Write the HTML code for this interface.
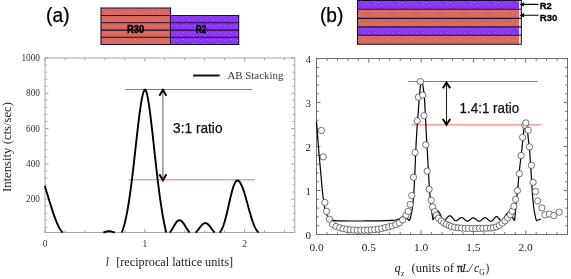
<!DOCTYPE html>
<html><head><meta charset="utf-8"><style>
html,body{margin:0;padding:0;background:#fff;width:571px;height:279px;overflow:hidden}
svg{display:block;will-change:transform}
</style></head><body>
<svg width="571" height="279" viewBox="0 0 571 279">
<rect width="571" height="279" fill="#fff"/>
<defs><pattern id="dots" x="0" y="0" width="12" height="7" patternUnits="userSpaceOnUse"><rect x="1" y="1" width="1" height="1" fill="#fff" opacity="0.35"/><rect x="6" y="2" width="1" height="1" fill="#fff" opacity="0.3"/><rect x="3" y="4" width="1" height="1" fill="#fff" opacity="0.3"/><rect x="9" y="5" width="1" height="1" fill="#fff" opacity="0.35"/></pattern></defs>
<text x="46.00" y="22.40" font-family="Liberation Sans, sans-serif" font-size="19.6" fill="#000" textLength="23.60" lengthAdjust="spacingAndGlyphs" stroke="#000" stroke-width="0.25">(a)</text>
<rect x="101" y="8" width="69.5" height="36.5" fill="#d86a5e"/>
<rect x="170.5" y="15.5" width="68.2" height="29" fill="#8a36f3"/>
<rect x="101" y="8" width="69.5" height="36.5" fill="url(#dots)" opacity="0.4"/>
<rect x="170.5" y="15.5" width="68.2" height="29" fill="url(#dots)"/>
<path d="M101,8H170.5 M101,15.5H238.7 M101,22.7H238.7 M101,30.1H238.7 M101,37.3H238.7 M101,44.5H238.7" stroke="#1a0c36" stroke-width="1.1" fill="none"/>
<path d="M101,7.5V45 M170.5,7.5V45 M238.7,15V45" stroke="#1a0c36" stroke-width="1.1" fill="none"/>
<text x="127.10" y="32.90" font-family="Liberation Sans, sans-serif" font-size="10.0" fill="#000" font-weight="bold" textLength="17.20" lengthAdjust="spacingAndGlyphs" stroke="#000" stroke-width="0.4">R30</text>
<text x="195.70" y="32.90" font-family="Liberation Sans, sans-serif" font-size="10.0" fill="#000" font-weight="bold" textLength="10.60" lengthAdjust="spacingAndGlyphs" stroke="#000" stroke-width="0.4">R2</text>
<text x="320.00" y="22.40" font-family="Liberation Sans, sans-serif" font-size="19.6" fill="#000" textLength="23.40" lengthAdjust="spacingAndGlyphs" stroke="#000" stroke-width="0.25">(b)</text>
<rect x="357.5" y="0.50" width="161.6" height="8.80" fill="#8a36f3"/>
<rect x="357.5" y="9.30" width="161.6" height="9.10" fill="#d86a5e"/>
<rect x="357.5" y="18.40" width="161.6" height="8.50" fill="#d86a5e"/>
<rect x="357.5" y="26.90" width="161.6" height="8.40" fill="#8a36f3"/>
<rect x="357.5" y="35.30" width="161.6" height="9.00" fill="#d86a5e"/>
<rect x="357.5" y="0.50" width="161.6" height="8.80" fill="url(#dots)" opacity="1"/>
<rect x="357.5" y="9.30" width="161.6" height="9.10" fill="url(#dots)" opacity="0.4"/>
<rect x="357.5" y="18.40" width="161.6" height="8.50" fill="url(#dots)" opacity="0.4"/>
<rect x="357.5" y="26.90" width="161.6" height="8.40" fill="url(#dots)" opacity="1"/>
<rect x="357.5" y="35.30" width="161.6" height="9.00" fill="url(#dots)" opacity="0.4"/>
<path d="M357.5,0.5H521.3 M357.5,9.3H521.3 M357.5,18.4H521.3 M357.5,26.9H521.3 M357.5,35.3H521.3 M357.5,44.3H521.3" stroke="#1a0c36" stroke-width="1.1" fill="none"/>
<path d="M357.5,0V44.8 M521.3,0V44.8" stroke="#1a0c36" stroke-width="1.1" fill="none"/>
<path d="M523,4.4H538.5 M523,15.3H538.5" stroke="#000" stroke-width="1.1"/>
<path d="M519.5,4.4L524,2.2L524,6.6Z M519.5,15.3L524,13.1L524,17.5Z" fill="#000"/>
<text x="539.80" y="9.30" font-family="Liberation Sans, sans-serif" font-size="9.8" fill="#000" font-weight="bold" textLength="12.00" lengthAdjust="spacingAndGlyphs" stroke="#000" stroke-width="0.3">R2</text>
<text x="539.80" y="20.90" font-family="Liberation Sans, sans-serif" font-size="9.8" fill="#000" font-weight="bold" textLength="17.60" lengthAdjust="spacingAndGlyphs" stroke="#000" stroke-width="0.3">R30</text>
<rect x="45.00" y="58.00" width="249.80" height="174.50" fill="none" stroke="#a3a3a3" stroke-width="1"/>
<path d="M45.00,232.50v-3.50 M45.00,58.00v3.50 M64.96,232.50v-2.20 M64.96,58.00v2.20 M84.92,232.50v-2.20 M84.92,58.00v2.20 M104.88,232.50v-2.20 M104.88,58.00v2.20 M124.84,232.50v-2.20 M124.84,58.00v2.20 M144.80,232.50v-3.50 M144.80,58.00v3.50 M164.76,232.50v-2.20 M164.76,58.00v2.20 M184.72,232.50v-2.20 M184.72,58.00v2.20 M204.68,232.50v-2.20 M204.68,58.00v2.20 M224.64,232.50v-2.20 M224.64,58.00v2.20 M244.60,232.50v-3.50 M244.60,58.00v3.50 M264.56,232.50v-2.20 M264.56,58.00v2.20 M284.52,232.50v-2.20 M284.52,58.00v2.20 M45.00,227.34h2.20 M294.80,227.34h-2.20 M45.00,220.29h2.20 M294.80,220.29h-2.20 M45.00,213.23h2.20 M294.80,213.23h-2.20 M45.00,206.18h2.20 M294.80,206.18h-2.20 M45.00,199.12h3.50 M294.80,199.12h-3.50 M45.00,192.06h2.20 M294.80,192.06h-2.20 M45.00,185.01h2.20 M294.80,185.01h-2.20 M45.00,177.95h2.20 M294.80,177.95h-2.20 M45.00,170.90h2.20 M294.80,170.90h-2.20 M45.00,163.84h3.50 M294.80,163.84h-3.50 M45.00,156.78h2.20 M294.80,156.78h-2.20 M45.00,149.73h2.20 M294.80,149.73h-2.20 M45.00,142.67h2.20 M294.80,142.67h-2.20 M45.00,135.62h2.20 M294.80,135.62h-2.20 M45.00,128.56h3.50 M294.80,128.56h-3.50 M45.00,121.50h2.20 M294.80,121.50h-2.20 M45.00,114.45h2.20 M294.80,114.45h-2.20 M45.00,107.39h2.20 M294.80,107.39h-2.20 M45.00,100.34h2.20 M294.80,100.34h-2.20 M45.00,93.28h3.50 M294.80,93.28h-3.50 M45.00,86.22h2.20 M294.80,86.22h-2.20 M45.00,79.17h2.20 M294.80,79.17h-2.20 M45.00,72.11h2.20 M294.80,72.11h-2.20 M45.00,65.06h2.20 M294.80,65.06h-2.20 M45.00,58.00h3.50 M294.80,58.00h-3.50" stroke="#a3a3a3" stroke-width="1" fill="none"/>
<text x="40.00" y="202.32" font-family="Liberation Serif, serif" font-size="9.3" fill="#333" text-anchor="end">200</text>
<text x="40.00" y="167.04" font-family="Liberation Serif, serif" font-size="9.3" fill="#333" text-anchor="end">400</text>
<text x="40.00" y="131.76" font-family="Liberation Serif, serif" font-size="9.3" fill="#333" text-anchor="end">600</text>
<text x="40.00" y="96.48" font-family="Liberation Serif, serif" font-size="9.3" fill="#333" text-anchor="end">800</text>
<text x="40.00" y="61.20" font-family="Liberation Serif, serif" font-size="9.3" fill="#333" text-anchor="end">1000</text>
<text x="45.00" y="246.60" font-family="Liberation Serif, serif" font-size="9.5" fill="#333" text-anchor="middle">0</text>
<text x="144.80" y="246.60" font-family="Liberation Serif, serif" font-size="9.5" fill="#333" text-anchor="middle">1</text>
<text x="244.60" y="246.60" font-family="Liberation Serif, serif" font-size="9.5" fill="#333" text-anchor="middle">2</text>
<text x="105.80" y="266.40" font-family="Liberation Serif, serif" font-size="11.5" fill="#222" font-style="italic">l</text>
<text x="116.20" y="266.40" font-family="Liberation Serif, serif" font-size="11.5" fill="#222" textLength="116.80" lengthAdjust="spacingAndGlyphs">[reciprocal lattice units]</text>
<text transform="translate(11.4,192) rotate(-90)" font-family="Liberation Serif, serif" font-size="11.5" fill="#222" textLength="90" lengthAdjust="spacingAndGlyphs">Intensity (cts/sec)</text>
<path d="M193.1,75.5H219.7" stroke="#111" stroke-width="2"/>
<text x="227.40" y="79.20" font-family="Liberation Serif, serif" font-size="11" fill="#333" textLength="56.00" lengthAdjust="spacingAndGlyphs">AB Stacking</text>
<path d="M125.3,89.5H251.9" stroke="#f64c38" stroke-width="1.1"/>
<path d="M128.6,179.8H254.7" stroke="#fa6a56" stroke-width="1.0"/>
<path d="M44.80,186.00 C45.42,188.00 47.28,194.07 48.50,198.00 C49.72,201.93 50.92,206.00 52.10,209.60 C53.28,213.20 54.43,216.60 55.60,219.60 C56.77,222.60 58.20,225.77 59.10,227.60 C60.00,229.43 60.38,229.78 61.00,230.60 C61.62,231.42 62.50,232.18 62.80,232.50" stroke="#000" stroke-width="1.9" fill="none" stroke-linejoin="round"/>
<path d="M103.40,232.50 L104.16,232.28 L104.92,232.04 L105.68,231.80 L106.44,231.58 L107.20,231.40 L107.96,231.27 L108.72,231.20 L109.48,231.21 L110.24,231.29 L111.00,231.42 L111.76,231.61 L112.52,231.83 L113.28,232.06 L114.04,232.29 L114.80,232.50" stroke="#000" stroke-width="1.9" fill="none" stroke-linejoin="round"/>
<path d="M121.80,232.50 L122.17,231.53 L122.55,230.51 L122.92,229.41 L123.30,228.26 L123.67,227.03 L124.04,225.73 L124.42,224.36 L124.79,222.92 L125.17,221.40 L125.54,219.80 L125.91,218.11 L126.29,216.35 L126.66,214.50 L127.04,212.57 L127.41,210.55 L127.78,208.45 L128.16,206.26 L128.53,203.99 L128.91,201.63 L129.28,199.18 L129.65,196.65 L130.03,194.04 L130.40,191.35 L130.77,188.58 L131.15,185.73 L131.52,182.81 L131.90,179.83 L132.27,176.77 L132.64,173.66 L133.02,170.49 L133.39,167.27 L133.77,164.01 L134.14,160.71 L134.51,157.38 L134.89,154.03 L135.26,150.66 L135.64,147.28 L136.01,143.90 L136.38,140.54 L136.76,137.19 L137.13,133.88 L137.51,130.60 L137.88,127.37 L138.25,124.20 L138.63,121.10 L139.00,118.09 L139.38,115.16 L139.75,112.34 L140.12,109.63 L140.50,107.05 L140.87,104.60 L141.25,102.30 L141.62,100.15 L141.99,98.17 L142.37,96.37 L142.74,94.76 L143.12,93.34 L143.49,92.13 L143.86,91.14 L144.24,90.38 L144.61,89.87 L144.98,89.62 L145.36,89.74 L145.73,90.26 L146.11,91.10 L146.48,92.21 L146.85,93.56 L147.23,95.14 L147.60,96.94 L147.98,98.92 L148.35,101.09 L148.72,103.42 L149.10,105.90 L149.47,108.52 L149.85,111.27 L150.22,114.14 L150.59,117.10 L150.97,120.16 L151.34,123.30 L151.72,126.51 L152.09,129.77 L152.46,133.09 L152.84,136.45 L153.21,139.83 L153.59,143.23 L153.96,146.65 L154.33,150.07 L154.71,153.49 L155.08,156.89 L155.46,160.28 L155.83,163.64 L156.20,166.96 L156.58,170.25 L156.95,173.50 L157.33,176.70 L157.70,179.84 L158.07,182.93 L158.45,185.96 L158.82,188.92 L159.19,191.82 L159.57,194.65 L159.94,197.40 L160.32,200.08 L160.69,202.69 L161.06,205.22 L161.44,207.67 L161.81,210.05 L162.19,212.34 L162.56,214.56 L162.93,216.69 L163.31,218.75 L163.68,220.73 L164.06,222.64 L164.43,224.46 L164.80,226.22 L165.18,227.90 L165.55,229.50 L165.93,231.04 L166.30,232.50" stroke="#000" stroke-width="1.9" fill="none" stroke-linejoin="round"/>
<path d="M169.80,232.50 L170.48,231.70 L171.17,230.75 L171.85,229.69 L172.53,228.53 L173.21,227.33 L173.90,226.12 L174.58,224.93 L175.26,223.81 L175.94,222.80 L176.63,221.91 L177.31,221.19 L177.99,220.66 L178.68,220.32 L179.36,220.20 L180.04,220.28 L180.72,220.56 L181.41,221.01 L182.09,221.64 L182.77,222.42 L183.46,223.32 L184.14,224.33 L184.82,225.42 L185.50,226.54 L186.19,227.69 L186.87,228.81 L187.55,229.88 L188.23,230.87 L188.92,231.75 L189.60,232.50" stroke="#000" stroke-width="1.9" fill="none" stroke-linejoin="round"/>
<path d="M195.60,232.50 L196.26,231.92 L196.92,231.24 L197.59,230.48 L198.25,229.65 L198.91,228.78 L199.57,227.90 L200.23,227.03 L200.90,226.20 L201.56,225.42 L202.22,224.73 L202.88,224.15 L203.54,223.68 L204.21,223.34 L204.87,223.15 L205.53,223.10 L206.19,223.22 L206.86,223.49 L207.52,223.91 L208.18,224.47 L208.84,225.15 L209.50,225.93 L210.17,226.78 L210.83,227.68 L211.49,228.59 L212.15,229.50 L212.81,230.37 L213.48,231.18 L214.14,231.90 L214.80,232.50" stroke="#000" stroke-width="1.9" fill="none" stroke-linejoin="round"/>
<path d="M219.70,232.50 L220.36,231.76 L221.02,230.81 L221.68,229.63 L222.34,228.23 L223.00,226.60 L223.66,224.75 L224.32,222.68 L224.97,220.43 L225.63,217.99 L226.29,215.40 L226.95,212.69 L227.61,209.88 L228.27,207.00 L228.93,204.10 L229.59,201.22 L230.25,198.38 L230.91,195.63 L231.57,193.01 L232.23,190.55 L232.89,188.30 L233.55,186.28 L234.21,184.53 L234.86,183.07 L235.52,181.92 L236.18,181.10 L236.84,180.63 L237.50,180.50 L238.16,180.66 L238.82,181.07 L239.48,181.72 L240.14,182.59 L240.80,183.70 L241.46,185.01 L242.12,186.52 L242.78,188.22 L243.44,190.08 L244.09,192.08 L244.75,194.21 L245.41,196.45 L246.07,198.76 L246.73,201.13 L247.39,203.54 L248.05,205.96 L248.71,208.38 L249.37,210.76 L250.03,213.09 L250.69,215.35 L251.35,217.52 L252.01,219.59 L252.67,221.55 L253.33,223.37 L253.98,225.05 L254.64,226.58 L255.30,227.96 L255.96,229.18 L256.62,230.25 L257.28,231.15 L257.94,231.90 L258.60,232.50" stroke="#000" stroke-width="1.9" fill="none" stroke-linejoin="round"/>
<path d="M162.90,90.70V179.40" stroke="#6a6a6a" stroke-width="1.10" fill="none"/><path d="M159.40,95.80L162.90,89.80L166.40,95.80 M159.40,174.30L162.90,180.30L166.40,174.30" stroke="#000" stroke-width="1.90" fill="none" stroke-linejoin="miter" stroke-linecap="butt"/>
<text x="173.10" y="132.80" font-family="Liberation Sans, sans-serif" font-size="13.8" fill="#111" textLength="49.40" lengthAdjust="spacingAndGlyphs" stroke="#111" stroke-width="0.25">3:1 ratio</text>
<rect x="316.50" y="58.50" width="251.00" height="176.00" fill="none" stroke="#6e6e6e" stroke-width="1"/>
<path d="M316.50,234.50v-4.00 M316.50,58.50v4.00 M326.96,234.50v-2.30 M326.96,58.50v2.30 M337.42,234.50v-2.30 M337.42,58.50v2.30 M347.88,234.50v-2.30 M347.88,58.50v2.30 M358.34,234.50v-2.30 M358.34,58.50v2.30 M368.80,234.50v-4.00 M368.80,58.50v4.00 M379.26,234.50v-2.30 M379.26,58.50v2.30 M389.72,234.50v-2.30 M389.72,58.50v2.30 M400.18,234.50v-2.30 M400.18,58.50v2.30 M410.64,234.50v-2.30 M410.64,58.50v2.30 M421.10,234.50v-4.00 M421.10,58.50v4.00 M431.56,234.50v-2.30 M431.56,58.50v2.30 M442.02,234.50v-2.30 M442.02,58.50v2.30 M452.48,234.50v-2.30 M452.48,58.50v2.30 M462.94,234.50v-2.30 M462.94,58.50v2.30 M473.40,234.50v-4.00 M473.40,58.50v4.00 M483.86,234.50v-2.30 M483.86,58.50v2.30 M494.32,234.50v-2.30 M494.32,58.50v2.30 M504.78,234.50v-2.30 M504.78,58.50v2.30 M515.24,234.50v-2.30 M515.24,58.50v2.30 M525.70,234.50v-4.00 M525.70,58.50v4.00 M536.16,234.50v-2.30 M536.16,58.50v2.30 M546.62,234.50v-2.30 M546.62,58.50v2.30 M557.08,234.50v-2.30 M557.08,58.50v2.30 M567.54,234.50v-2.30 M567.54,58.50v2.30 M316.50,234.50h4.00 M567.50,234.50h-4.00 M316.50,225.71h2.30 M567.50,225.71h-2.30 M316.50,216.91h2.30 M567.50,216.91h-2.30 M316.50,208.12h2.30 M567.50,208.12h-2.30 M316.50,199.32h2.30 M567.50,199.32h-2.30 M316.50,190.53h4.00 M567.50,190.53h-4.00 M316.50,181.74h2.30 M567.50,181.74h-2.30 M316.50,172.94h2.30 M567.50,172.94h-2.30 M316.50,164.15h2.30 M567.50,164.15h-2.30 M316.50,155.35h2.30 M567.50,155.35h-2.30 M316.50,146.56h4.00 M567.50,146.56h-4.00 M316.50,137.77h2.30 M567.50,137.77h-2.30 M316.50,128.97h2.30 M567.50,128.97h-2.30 M316.50,120.18h2.30 M567.50,120.18h-2.30 M316.50,111.38h2.30 M567.50,111.38h-2.30 M316.50,102.59h4.00 M567.50,102.59h-4.00 M316.50,93.80h2.30 M567.50,93.80h-2.30 M316.50,85.00h2.30 M567.50,85.00h-2.30 M316.50,76.21h2.30 M567.50,76.21h-2.30 M316.50,67.41h2.30 M567.50,67.41h-2.30 M316.50,58.62h4.00 M567.50,58.62h-4.00" stroke="#6e6e6e" stroke-width="1" fill="none"/>
<text x="310.90" y="238.70" font-family="Liberation Serif, serif" font-size="11" fill="#2a2a2a" text-anchor="end">0</text>
<text x="310.90" y="194.73" font-family="Liberation Serif, serif" font-size="11" fill="#2a2a2a" text-anchor="end">1</text>
<text x="310.90" y="150.76" font-family="Liberation Serif, serif" font-size="11" fill="#2a2a2a" text-anchor="end">2</text>
<text x="310.90" y="106.79" font-family="Liberation Serif, serif" font-size="11" fill="#2a2a2a" text-anchor="end">3</text>
<text x="310.90" y="62.82" font-family="Liberation Serif, serif" font-size="11" fill="#2a2a2a" text-anchor="end">4</text>
<text x="316.50" y="250.60" font-family="Liberation Serif, serif" font-size="11.4" fill="#222" text-anchor="middle">0.0</text>
<text x="368.80" y="250.60" font-family="Liberation Serif, serif" font-size="11.4" fill="#222" text-anchor="middle">0.5</text>
<text x="421.10" y="250.60" font-family="Liberation Serif, serif" font-size="11.4" fill="#222" text-anchor="middle">1.0</text>
<text x="473.40" y="250.60" font-family="Liberation Serif, serif" font-size="11.4" fill="#222" text-anchor="middle">1.5</text>
<text x="525.70" y="250.60" font-family="Liberation Serif, serif" font-size="11.4" fill="#222" text-anchor="middle">2.0</text>
<text x="394.60" y="271.60" font-family="Liberation Serif, serif" font-size="12.2" fill="#222" font-style="italic">q</text>
<text x="401.00" y="275.60" font-family="Liberation Serif, serif" font-size="7.6" fill="#222">z</text>
<text x="411.50" y="271.60" font-family="Liberation Serif, serif" font-size="11.5" fill="#222" textLength="42.50" lengthAdjust="spacingAndGlyphs">(units of</text>
<text x="457.00" y="271.60" font-family="Liberation Serif, serif" font-size="11.8" fill="#222" stroke="#222" stroke-width="0.3">π</text>
<text x="462.00" y="271.60" font-family="Liberation Serif, serif" font-size="12" fill="#222" font-style="italic">L</text>
<text x="468.80" y="271.90" font-family="Liberation Serif, serif" font-size="12.5" fill="#222" font-style="italic">/</text>
<text x="474.00" y="271.60" font-family="Liberation Serif, serif" font-size="11.8" fill="#222" font-style="italic">c</text>
<text x="479.30" y="275.00" font-family="Liberation Serif, serif" font-size="7.5" fill="#222">G</text>
<text x="485.60" y="271.60" font-family="Liberation Serif, serif" font-size="11.5" fill="#222">)</text>
<path d="M407.9,81.5H537.6" stroke="#f64c38" stroke-width="1.1"/>
<path d="M411.5,124.9H540.9" stroke="#fa6a56" stroke-width="1.0"/>
<path d="M316.50,121.50 C316.87,126.25 318.03,141.92 318.70,150.00 C319.37,158.08 319.90,163.33 320.50,170.00 C321.10,176.67 321.73,184.50 322.30,190.00 C322.87,195.50 323.42,199.67 323.90,203.00 C324.38,206.33 324.72,208.00 325.20,210.00 C325.68,212.00 326.25,213.70 326.80,215.00 C327.35,216.30 327.90,217.07 328.50,217.80 C329.10,218.53 329.37,218.93 330.40,219.40 C331.43,219.87 333.10,220.35 334.70,220.60 C336.30,220.85 335.78,220.83 340.00,220.90 C344.22,220.97 353.33,221.02 360.00,221.00 C366.67,220.98 374.67,220.90 380.00,220.80 C385.33,220.70 389.33,220.53 392.00,220.40 C394.67,220.27 394.67,220.30 396.00,220.00 C397.33,219.70 398.75,219.17 400.00,218.60 C401.25,218.03 402.53,216.83 403.50,216.60 C404.47,216.37 405.08,216.77 405.80,217.20 C406.52,217.63 407.18,218.63 407.80,219.20 C408.42,219.77 409.22,220.37 409.50,220.60" stroke="#000" stroke-width="1.2" fill="none" stroke-linejoin="round"/>
<path d="M409.50,220.60 C409.85,219.33 410.97,216.43 411.60,213.00 C412.23,209.57 412.90,203.83 413.30,200.00 C413.70,196.17 413.72,195.00 414.00,190.00 C414.28,185.00 414.70,176.67 415.00,170.00 C415.30,163.33 415.48,156.67 415.80,150.00 C416.12,143.33 416.47,136.67 416.90,130.00 C417.33,123.33 417.97,115.83 418.40,110.00 C418.83,104.17 419.18,98.83 419.50,95.00 C419.82,91.17 420.05,89.08 420.30,87.00 C420.55,84.92 420.77,83.47 421.00,82.50 C421.23,81.53 421.47,81.20 421.70,81.20 C421.93,81.20 422.17,81.53 422.40,82.50 C422.63,83.47 422.80,84.92 423.10,87.00 C423.40,89.08 423.87,91.17 424.20,95.00 C424.53,98.83 424.78,104.17 425.10,110.00 C425.42,115.83 425.75,123.33 426.10,130.00 C426.45,136.67 426.82,143.33 427.20,150.00 C427.58,156.67 428.02,163.33 428.40,170.00 C428.78,176.67 429.08,184.17 429.50,190.00 C429.92,195.83 430.45,200.83 430.90,205.00 C431.35,209.17 431.82,212.47 432.20,215.00 C432.58,217.53 433.03,219.33 433.20,220.20" stroke="#000" stroke-width="1.2" fill="none" stroke-linejoin="round"/>
<path d="M432.90,220.00 C433.30,219.08 434.45,216.02 435.30,214.50 C436.15,212.98 437.17,210.90 438.00,210.90 C438.83,210.90 439.60,213.15 440.30,214.50 C441.00,215.85 441.65,217.92 442.20,219.00 C442.75,220.08 443.37,220.67 443.60,221.00" stroke="#000" stroke-width="1.2" fill="none" stroke-linejoin="round"/>
<path d="M443.60,220.80 C443.69,220.79 443.95,220.77 444.12,220.71 C444.30,220.66 444.48,220.57 444.65,220.47 C444.83,220.36 445.00,220.22 445.18,220.07 C445.35,219.92 445.52,219.74 445.70,219.55 C445.88,219.36 446.05,219.16 446.23,218.95 C446.40,218.74 446.57,218.52 446.75,218.30 C446.93,218.08 447.10,217.86 447.27,217.65 C447.45,217.44 447.62,217.24 447.80,217.05 C447.98,216.86 448.15,216.68 448.32,216.53 C448.50,216.38 448.67,216.24 448.85,216.13 C449.02,216.03 449.20,215.94 449.38,215.89 C449.55,215.83 449.73,215.80 449.90,215.80 C450.07,215.80 450.23,215.83 450.39,215.88 C450.56,215.94 450.72,216.02 450.88,216.13 C451.05,216.23 451.21,216.37 451.38,216.52 C451.54,216.67 451.70,216.84 451.87,217.03 C452.03,217.21 452.19,217.41 452.36,217.62 C452.52,217.82 452.69,218.04 452.85,218.25 C453.01,218.46 453.18,218.68 453.34,218.88 C453.51,219.09 453.67,219.29 453.83,219.47 C454.00,219.66 454.16,219.83 454.32,219.98 C454.49,220.13 454.65,220.27 454.82,220.37 C454.98,220.48 455.14,220.56 455.31,220.62 C455.47,220.67 455.64,220.70 455.80,220.70 C455.96,220.70 456.12,220.68 456.28,220.65 C456.44,220.61 456.61,220.55 456.77,220.49 C456.93,220.42 457.09,220.33 457.25,220.23 C457.41,220.13 457.57,220.02 457.73,219.90 C457.89,219.78 458.06,219.65 458.22,219.51 C458.38,219.38 458.54,219.24 458.70,219.10 C458.86,218.96 459.02,218.82 459.18,218.69 C459.34,218.55 459.51,218.42 459.67,218.30 C459.83,218.18 459.99,218.07 460.15,217.97 C460.31,217.87 460.47,217.78 460.63,217.71 C460.79,217.65 460.96,217.59 461.12,217.55 C461.28,217.52 461.44,217.50 461.60,217.50 C461.76,217.50 461.92,217.52 462.08,217.56 C462.24,217.60 462.41,217.66 462.57,217.74 C462.73,217.82 462.89,217.92 463.05,218.03 C463.21,218.14 463.37,218.27 463.53,218.40 C463.69,218.53 463.86,218.68 464.02,218.83 C464.18,218.98 464.34,219.14 464.50,219.30 C464.66,219.46 464.82,219.62 464.98,219.77 C465.14,219.92 465.31,220.07 465.47,220.20 C465.63,220.33 465.79,220.46 465.95,220.57 C466.11,220.68 466.27,220.78 466.43,220.86 C466.59,220.94 466.76,221.00 466.92,221.04 C467.08,221.08 467.24,221.10 467.40,221.10 C467.56,221.10 467.73,221.08 467.89,221.05 C468.06,221.01 468.22,220.95 468.38,220.89 C468.55,220.82 468.71,220.73 468.88,220.63 C469.04,220.53 469.20,220.42 469.37,220.30 C469.53,220.18 469.69,220.05 469.86,219.91 C470.02,219.78 470.19,219.64 470.35,219.50 C470.51,219.36 470.68,219.22 470.84,219.09 C471.01,218.95 471.17,218.82 471.33,218.70 C471.50,218.58 471.66,218.47 471.82,218.37 C471.99,218.27 472.15,218.18 472.32,218.11 C472.48,218.05 472.64,217.99 472.81,217.95 C472.97,217.92 473.14,217.90 473.30,217.90 C473.46,217.90 473.63,217.92 473.79,217.96 C473.96,217.99 474.12,218.05 474.28,218.12 C474.45,218.19 474.61,218.28 474.77,218.38 C474.94,218.48 475.10,218.60 475.27,218.72 C475.43,218.85 475.59,218.99 475.76,219.12 C475.92,219.26 476.09,219.41 476.25,219.55 C476.41,219.69 476.58,219.84 476.74,219.98 C476.91,220.11 477.07,220.25 477.23,220.38 C477.40,220.50 477.56,220.62 477.73,220.72 C477.89,220.82 478.05,220.91 478.22,220.98 C478.38,221.05 478.54,221.11 478.71,221.14 C478.87,221.18 479.04,221.20 479.20,221.20 C479.36,221.20 479.52,221.18 479.68,221.14 C479.84,221.10 480.01,221.04 480.17,220.97 C480.33,220.89 480.49,220.79 480.65,220.69 C480.81,220.58 480.97,220.46 481.13,220.32 C481.29,220.19 481.46,220.05 481.62,219.90 C481.78,219.76 481.94,219.60 482.10,219.45 C482.26,219.30 482.42,219.14 482.58,219.00 C482.74,218.85 482.91,218.71 483.07,218.57 C483.23,218.44 483.39,218.32 483.55,218.21 C483.71,218.11 483.87,218.01 484.03,217.93 C484.19,217.86 484.36,217.80 484.52,217.76 C484.68,217.72 484.84,217.70 485.00,217.70 C485.16,217.70 485.33,217.72 485.50,217.76 C485.67,217.80 485.83,217.86 486.00,217.94 C486.17,218.02 486.33,218.12 486.50,218.23 C486.67,218.34 486.83,218.47 487.00,218.60 C487.17,218.73 487.33,218.88 487.50,219.03 C487.67,219.18 487.83,219.34 488.00,219.50 C488.17,219.66 488.33,219.82 488.50,219.97 C488.67,220.12 488.83,220.27 489.00,220.40 C489.17,220.53 489.33,220.66 489.50,220.77 C489.67,220.88 489.83,220.98 490.00,221.06 C490.17,221.14 490.33,221.20 490.50,221.24 C490.67,221.28 490.84,221.30 491.00,221.30 C491.16,221.30 491.31,221.27 491.47,221.22 C491.62,221.17 491.78,221.09 491.93,220.99 C492.09,220.88 492.24,220.76 492.40,220.61 C492.56,220.47 492.71,220.30 492.87,220.12 C493.02,219.95 493.18,219.75 493.33,219.56 C493.49,219.36 493.64,219.15 493.80,218.95 C493.96,218.75 494.11,218.54 494.27,218.34 C494.42,218.15 494.58,217.95 494.73,217.78 C494.89,217.60 495.04,217.43 495.20,217.29 C495.36,217.14 495.51,217.02 495.67,216.91 C495.82,216.81 495.98,216.73 496.13,216.68 C496.29,216.63 496.45,216.60 496.60,216.60 C496.75,216.60 496.87,216.62 497.01,216.67 C497.14,216.71 497.28,216.78 497.42,216.87 C497.55,216.95 497.69,217.06 497.83,217.19 C497.96,217.31 498.10,217.45 498.23,217.60 C498.37,217.75 498.51,217.92 498.64,218.08 C498.78,218.25 498.91,218.43 499.05,218.60 C499.19,218.77 499.32,218.95 499.46,219.12 C499.59,219.28 499.73,219.45 499.87,219.60 C500.00,219.75 500.14,219.89 500.27,220.01 C500.41,220.14 500.55,220.25 500.68,220.33 C500.82,220.42 500.96,220.49 501.09,220.53 C501.23,220.58 501.43,220.59 501.50,220.60" stroke="#000" stroke-width="1.2" fill="none" stroke-linejoin="round"/>
<path d="M501.50,220.50 C501.75,220.38 502.38,220.52 503.00,219.80 C503.62,219.08 504.40,217.40 505.20,216.20 C506.00,215.00 506.97,213.03 507.80,212.60 C508.63,212.17 509.40,212.77 510.20,213.60 C511.00,214.43 511.87,216.40 512.60,217.60 C513.33,218.80 514.27,220.27 514.60,220.80" stroke="#000" stroke-width="1.2" fill="none" stroke-linejoin="round"/>
<path d="M514.60,220.80 C514.77,219.00 515.30,213.47 515.60,210.00 C515.90,206.53 516.05,203.33 516.40,200.00 C516.75,196.67 517.28,194.17 517.70,190.00 C518.12,185.83 518.52,179.17 518.90,175.00 C519.28,170.83 519.60,168.33 520.00,165.00 C520.40,161.67 520.83,159.17 521.30,155.00 C521.77,150.83 522.32,144.67 522.80,140.00 C523.28,135.33 523.83,129.75 524.20,127.00 C524.57,124.25 524.77,124.23 525.00,123.50 C525.23,122.77 525.38,122.60 525.60,122.60 C525.82,122.60 526.07,122.77 526.30,123.50 C526.53,124.23 526.68,124.58 527.00,127.00 C527.32,129.42 527.77,134.17 528.20,138.00 C528.63,141.83 529.20,145.50 529.60,150.00 C530.00,154.50 530.27,160.00 530.60,165.00 C530.93,170.00 531.28,175.00 531.60,180.00 C531.92,185.00 532.13,190.33 532.50,195.00 C532.87,199.67 533.35,204.50 533.80,208.00 C534.25,211.50 534.75,213.85 535.20,216.00 C535.65,218.15 536.28,220.08 536.50,220.90" stroke="#000" stroke-width="1.2" fill="none" stroke-linejoin="round"/>
<path d="M536.50,220.90 C536.85,220.72 537.90,220.08 538.60,219.80 C539.30,219.52 540.35,219.30 540.70,219.20" stroke="#000" stroke-width="1.2" fill="none" stroke-linejoin="round"/>
<g fill="#fff" stroke="#383838" stroke-width="0.7"><circle cx="321.40" cy="130.50" r="3.15"/><circle cx="323.20" cy="156.90" r="3.15"/><circle cx="324.90" cy="202.50" r="3.15"/><circle cx="326.50" cy="211.30" r="3.15"/><circle cx="329.40" cy="219.20" r="3.15"/><circle cx="332.50" cy="224.20" r="3.15"/><circle cx="336.10" cy="226.50" r="3.15"/><circle cx="339.70" cy="227.80" r="3.15"/><circle cx="343.20" cy="228.70" r="3.15"/><circle cx="346.70" cy="229.40" r="3.15"/><circle cx="350.20" cy="229.80" r="3.15"/><circle cx="353.70" cy="230.00" r="3.15"/><circle cx="357.20" cy="230.20" r="3.15"/><circle cx="360.70" cy="230.20" r="3.15"/><circle cx="364.20" cy="230.20" r="3.15"/><circle cx="367.70" cy="230.10" r="3.15"/><circle cx="371.20" cy="229.90" r="3.15"/><circle cx="374.70" cy="229.60" r="3.15"/><circle cx="378.20" cy="229.20" r="3.15"/><circle cx="381.70" cy="228.50" r="3.15"/><circle cx="385.20" cy="227.60" r="3.15"/><circle cx="388.70" cy="226.80" r="3.15"/><circle cx="392.20" cy="225.90" r="3.15"/><circle cx="395.70" cy="224.60" r="3.15"/><circle cx="399.20" cy="222.90" r="3.15"/><circle cx="402.70" cy="219.90" r="3.15"/><circle cx="406.00" cy="215.30" r="3.15"/><circle cx="408.20" cy="211.40" r="3.15"/><circle cx="410.20" cy="204.40" r="3.15"/><circle cx="411.80" cy="195.60" r="3.15"/><circle cx="413.50" cy="177.30" r="3.15"/><circle cx="415.10" cy="152.60" r="3.15"/><circle cx="417.20" cy="120.80" r="3.15"/><circle cx="418.40" cy="97.20" r="3.15"/><circle cx="420.50" cy="81.60" r="3.15"/><circle cx="422.70" cy="95.10" r="3.15"/><circle cx="424.10" cy="115.70" r="3.15"/><circle cx="425.80" cy="144.80" r="3.15"/><circle cx="427.20" cy="171.10" r="3.15"/><circle cx="429.10" cy="189.20" r="3.15"/><circle cx="431.20" cy="200.30" r="3.15"/><circle cx="432.70" cy="206.90" r="3.15"/><circle cx="434.60" cy="211.60" r="3.15"/><circle cx="436.50" cy="215.20" r="3.15"/><circle cx="438.50" cy="218.30" r="3.15"/><circle cx="441.10" cy="220.90" r="3.15"/><circle cx="443.80" cy="222.90" r="3.15"/><circle cx="446.40" cy="224.30" r="3.15"/><circle cx="449.20" cy="225.50" r="3.15"/><circle cx="451.30" cy="226.60" r="3.15"/><circle cx="454.60" cy="227.30" r="3.15"/><circle cx="458.00" cy="227.80" r="3.15"/><circle cx="461.50" cy="228.10" r="3.15"/><circle cx="465.00" cy="228.30" r="3.15"/><circle cx="468.50" cy="228.40" r="3.15"/><circle cx="472.10" cy="228.50" r="3.15"/><circle cx="475.70" cy="228.50" r="3.15"/><circle cx="479.30" cy="228.40" r="3.15"/><circle cx="482.90" cy="228.30" r="3.15"/><circle cx="486.50" cy="228.20" r="3.15"/><circle cx="490.30" cy="228.10" r="3.15"/><circle cx="493.30" cy="227.70" r="3.15"/><circle cx="496.30" cy="226.90" r="3.15"/><circle cx="499.30" cy="225.40" r="3.15"/><circle cx="502.30" cy="223.10" r="3.15"/><circle cx="504.90" cy="220.90" r="3.15"/><circle cx="507.60" cy="217.90" r="3.15"/><circle cx="510.30" cy="214.50" r="3.15"/><circle cx="512.10" cy="211.10" r="3.15"/><circle cx="513.90" cy="206.30" r="3.15"/><circle cx="515.60" cy="199.30" r="3.15"/><circle cx="517.40" cy="190.60" r="3.15"/><circle cx="519.40" cy="173.70" r="3.15"/><circle cx="521.00" cy="155.60" r="3.15"/><circle cx="522.60" cy="137.40" r="3.15"/><circle cx="525.00" cy="125.30" r="3.15"/><circle cx="525.80" cy="122.90" r="3.15"/><circle cx="528.20" cy="130.20" r="3.15"/><circle cx="529.40" cy="146.80" r="3.15"/><circle cx="531.50" cy="165.30" r="3.15"/><circle cx="533.10" cy="182.30" r="3.15"/><circle cx="535.50" cy="191.50" r="3.15"/><circle cx="537.70" cy="201.00" r="3.15"/><circle cx="541.90" cy="207.90" r="3.15"/><circle cx="545.00" cy="214.80" r="3.15"/><circle cx="549.30" cy="214.00" r="3.15"/><circle cx="553.80" cy="215.60" r="3.15"/><circle cx="559.20" cy="212.20" r="3.15"/></g>
<path d="M446.50,83.30V123.80" stroke="#222" stroke-width="1.10" fill="none"/><path d="M442.80,88.20L446.50,82.40L450.20,88.20 M442.80,118.90L446.50,124.70L450.20,118.90" stroke="#000" stroke-width="1.90" fill="none" stroke-linejoin="miter" stroke-linecap="butt"/>
<text x="459.60" y="113.20" font-family="Liberation Sans, sans-serif" font-size="13.9" fill="#111" textLength="59.60" lengthAdjust="spacingAndGlyphs" stroke="#111" stroke-width="0.25">1.4:1 ratio</text>
</svg>
</body></html>
